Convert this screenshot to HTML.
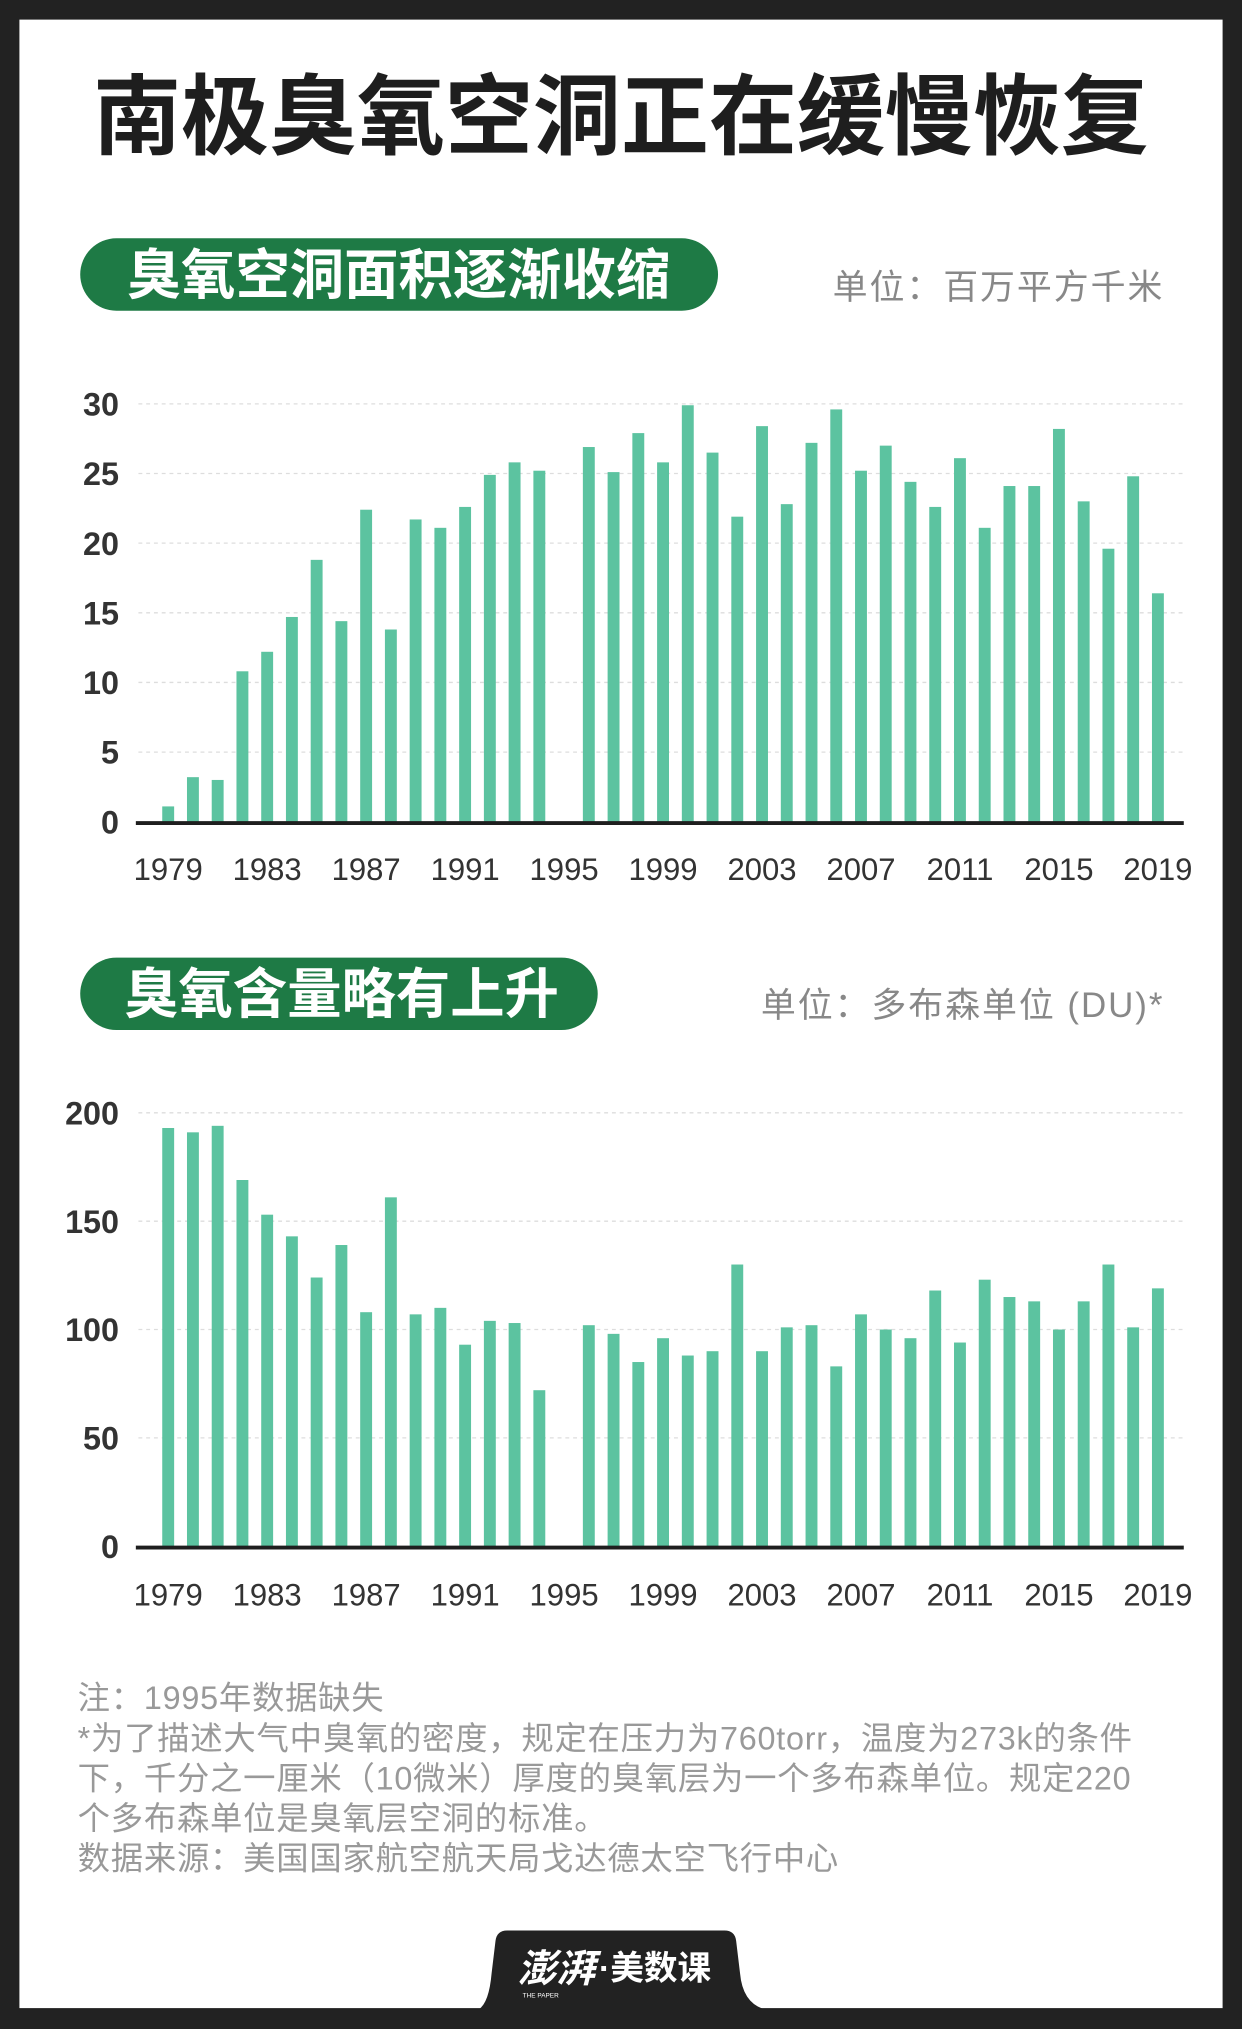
<!DOCTYPE html>
<html><head><meta charset="utf-8">
<style>
html,body{margin:0;padding:0;background:#222;}
svg{display:block;}
text{font-family:"Liberation Sans","Noto Sans CJK SC",sans-serif;}
</style></head>
<body>
<svg id="root" width="1242" height="2029" viewBox="0 0 960 1568" xmlns="http://www.w3.org/2000/svg">
  <rect x="0" y="0" width="960" height="1568" fill="#222"/>
  <rect x="15" y="15" width="930" height="1537" fill="#ffffff"/>
  <path d="M370 1553 Q378 1548 380 1525 L383 1500 Q384 1492 392 1492 L560 1492 Q568 1492 569 1500 L572 1525 Q574 1548 591 1553 Z" fill="#222"/>
  <text x="400" y="1532" font-size="30" fill="#fff" font-weight="bold" font-style="italic">澎湃</text>
  <text x="463" y="1530" font-size="26" fill="#fff" font-weight="bold">·美数课</text>
  <text x="404" y="1544" font-size="5" fill="#fff">THE PAPER</text>

  <text x="480" y="114" font-size="68" font-weight="bold" fill="#1e1e1e" text-anchor="middle" letter-spacing="0">南极臭氧空洞正在缓慢恢复</text>

  <rect x="62" y="184" width="493" height="56" rx="28" fill="#1e7a45"/>
  <text x="308" y="227" font-size="42" font-weight="bold" fill="#fff" text-anchor="middle">臭氧空洞面积逐渐收缩</text>
  <text x="900" y="231" font-size="27" fill="#888" text-anchor="end" letter-spacing="1.5">单位：百万平方千米</text>

  <rect x="62" y="740" width="400" height="56" rx="28" fill="#1e7a45"/>
  <text x="264" y="783" font-size="42" font-weight="bold" fill="#fff" text-anchor="middle">臭氧含量略有上升</text>
  <text x="900" y="786" font-size="27" fill="#888" text-anchor="end" letter-spacing="1.5">单位：多布森单位 (DU)*</text>

  <g id="chart1"></g>
  <g id="chart2"></g>

  <g font-size="25" fill="#999" letter-spacing="0.6">
    <text x="60" y="1321">注：1995年数据缺失</text>
    <text x="60" y="1352">*为了描述大气中臭氧的密度，规定在压力为760torr，温度为273k的条件</text>
    <text x="60" y="1383">下，千分之一厘米（10微米）厚度的臭氧层为一个多布森单位。规定220</text>
    <text x="60" y="1414">个多布森单位是臭氧层空洞的标准。</text>
    <text x="60" y="1445">数据来源：美国国家航空航天局戈达德太空飞行中心</text>
  </g>
</svg>
<script>
const years = [];
for (let y = 1979; y <= 2019; y++) years.push(y);
const xTickLabels = ["1979","1983","1987","1991","1995","1999","2003","2007","2011","2015","2019"];
const areaValues = [1.1,3.2,3.0,10.8,12.2,14.7,18.8,14.4,22.4,13.8,21.7,21.1,22.6,24.9,25.8,25.2,null,26.9,25.1,27.9,25.8,29.9,26.5,21.9,28.4,22.8,27.2,29.6,25.2,27.0,24.4,22.6,26.1,21.1,24.1,24.1,28.2,23.0,19.6,24.8,16.4];
const areaTicks = [0,5,10,15,20,25,30];
const ozoneValues = [193,191,194,169,153,143,124,139,108,161,107,110,93,104,103,72,null,102,98,85,96,88,90,130,90,101,102,83,107,100,96,118,94,123,115,113,100,113,130,101,119];
const ozoneTicks = [0,50,100,150,200];

const NS = "http://www.w3.org/2000/svg";
function mk(tag, attrs, parent) {
  const e = document.createElementNS(NS, tag);
  for (const k in attrs) e.setAttribute(k, attrs[k]);
  parent.appendChild(e);
  return e;
}
function xPos(year) { return 130 + (year - 1979) * 19.125; }

function drawChart(g, values, ticks, yMax, y0, yTop, labelY, prefix) {
  const yScale = v => y0 - (v / yMax) * (y0 - yTop);
  ticks.forEach(t => {
    const yy = yScale(t);
    if (t !== 0) {
      const gl = mk("line", {x1:107, x2:915, y1:yy, y2:yy, stroke:"#ddd", "stroke-width":1, "stroke-dasharray":"3,3"}, g);
      
      
    }
    const tl = mk("text", {x:92, y:yy+9, "font-size":25, "font-weight":"bold", fill:"#333", "text-anchor":"end"}, g);
    tl.textContent = t;
    
    
  });
  values.forEach((v, i) => {
    if (v === null) return;
    const x = xPos(years[i]);
    const top = yScale(v);
    const b = mk("rect", {x:x-4.6, y:top, width:9.2, height:y0-top, fill:"#5cc3a0"}, g);
    
    
  });
  const ax = mk("line", {x1:105, x2:915, y1:y0+1, y2:y0+1, stroke:"#1e1e1e", "stroke-width":3}, g);
  
  
  xTickLabels.forEach(l => {
    const t = mk("text", {x:xPos(+l), y:labelY, "font-size":24, fill:"#333", "text-anchor":"middle"}, g);
    t.textContent = l;
    
    
  });
}
drawChart(document.getElementById("chart1"), areaValues, areaTicks, 30, 635, 312, 680, "area");
drawChart(document.getElementById("chart2"), ozoneValues, ozoneTicks, 200, 1195, 860, 1241, "ozone");
</script>
</body></html>
